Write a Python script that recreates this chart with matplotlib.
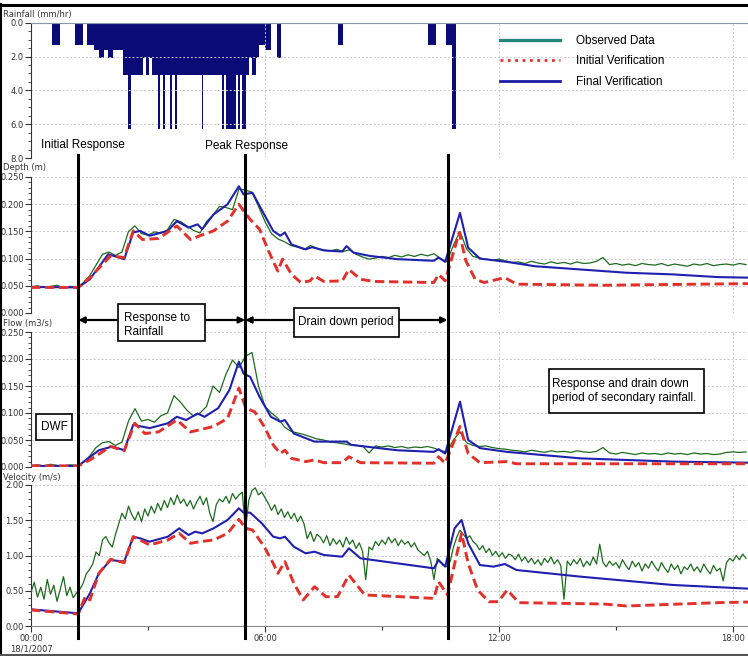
import numpy as np
import matplotlib.pyplot as plt
from matplotlib.lines import Line2D
from matplotlib.patches import Rectangle, FancyArrowPatch
from matplotlib.ticker import MultipleLocator, FormatStrFormatter
import matplotlib.transforms as mtransforms

# ---------------- data (time in hours from 00:00 18/1/2007) ----------------
# rainfall intensity (mm/hr) as steps between edges
rain_edges = [0.538, 0.744, 1.128, 1.333, 1.436, 1.615, 1.744, 1.872, 1.974, 2.103,
              2.359, 2.487, 2.564, 2.872, 2.949, 3.026, 3.103, 3.256, 3.308, 3.385,
              3.436, 3.564, 3.615, 3.692, 3.731, 4.385, 4.423, 4.897, 4.949, 5.0,
              5.256, 5.308, 5.359, 5.41, 5.513, 5.59, 5.667, 5.769, 5.846, 6.0,
              6.154, 6.308, 6.41, 7.872, 8.0, 10.18, 10.385, 10.641, 10.795, 10.897]
rain_rate = [1.3, 0, 1.3, 0, 1.3, 1.6, 2.1, 1.6, 2.1, 1.6,
             3.1, 6.3, 3.1, 2.1, 3.1, 2.1, 3.1, 6.3, 3.1, 6.3,
             3.1, 6.3, 3.1, 6.3, 3.1, 6.3, 3.1, 6.3, 3.1, 6.3,
             3.1, 6.3, 3.1, 6.3, 3.1, 2.1, 3.1, 2.1, 1.3, 1.6,
             0, 2.1, 0, 1.3, 0, 1.3, 0, 1.3, 6.3]

# observed depth (m) and flow (m3/s), 10-minute readings
depth_obs = [0.048, 0.050, 0.047, 0.049, 0.051, 0.046, 0.049, 0.047, 0.055, 0.068, 0.088, 0.108,
             0.112, 0.106, 0.112, 0.150, 0.160, 0.146, 0.143, 0.149, 0.147, 0.153, 0.172, 0.168,
             0.160, 0.152, 0.147, 0.168, 0.180, 0.196, 0.194, 0.190, 0.228, 0.226, 0.222, 0.196,
             0.168, 0.146, 0.136, 0.131, 0.124, 0.121, 0.117, 0.124, 0.119, 0.116, 0.114, 0.117,
             0.113, 0.116, 0.108, 0.103, 0.099, 0.101, 0.104, 0.102, 0.106, 0.103, 0.107, 0.104,
             0.108, 0.105, 0.109, 0.100, 0.094, 0.125, 0.150, 0.118, 0.104, 0.101, 0.099, 0.097,
             0.099, 0.096, 0.093, 0.094, 0.091, 0.095, 0.092, 0.090, 0.094, 0.091, 0.093, 0.090,
             0.094, 0.091, 0.092, 0.095, 0.102, 0.089, 0.091, 0.088, 0.090, 0.087, 0.091, 0.089,
             0.088, 0.091, 0.087, 0.090, 0.088, 0.086, 0.090, 0.088, 0.091, 0.087, 0.089, 0.090,
             0.088, 0.091, 0.089]
flow_obs = [0.003, 0.004, 0.002, 0.005, 0.003, 0.002, 0.004, 0.003, 0.008, 0.020, 0.036, 0.045,
            0.047, 0.040, 0.046, 0.085, 0.108, 0.085, 0.088, 0.083, 0.095, 0.100, 0.132, 0.120,
            0.105, 0.094, 0.100, 0.112, 0.150, 0.138, 0.172, 0.198, 0.184, 0.205, 0.212, 0.150,
            0.112, 0.100, 0.090, 0.074, 0.066, 0.063, 0.060, 0.056, 0.052, 0.050, 0.046, 0.045,
            0.043, 0.041, 0.040, 0.039, 0.026, 0.039, 0.037, 0.039, 0.036, 0.038, 0.035, 0.037,
            0.036, 0.038, 0.035, 0.030, 0.028, 0.050, 0.065, 0.045, 0.040, 0.038, 0.039, 0.036,
            0.034, 0.033, 0.031, 0.030, 0.028, 0.031, 0.029, 0.027, 0.030, 0.028, 0.029, 0.027,
            0.030, 0.028, 0.027, 0.029, 0.036, 0.026, 0.024, 0.027, 0.025, 0.023, 0.026, 0.024,
            0.025, 0.023, 0.026, 0.024, 0.025, 0.023, 0.026, 0.024, 0.025, 0.023, 0.024, 0.027,
            0.028, 0.027, 0.028]
t_obs10 = np.arange(len(depth_obs)) / 6.0

# observed velocity (m/s), 5-minute readings
vel_obs = [0.48, 0.62, 0.41, 0.55, 0.38, 0.66, 0.45, 0.58, 0.35, 0.52, 0.70, 0.43,
           0.55, 0.40, 0.47, 0.52, 0.60, 0.74, 0.80, 0.88, 1.05, 1.00, 1.22, 1.27,
           1.18, 1.12, 1.30, 1.45, 1.60, 1.52, 1.70, 1.58, 1.50, 1.62, 1.48, 1.66,
           1.56, 1.70, 1.60, 1.74, 1.64, 1.78, 1.68, 1.82, 1.72, 1.86, 1.74, 1.80,
           1.70, 1.78, 1.66, 1.76, 1.84, 1.72, 1.82, 1.60, 1.48, 1.72, 1.80, 1.76,
           1.84, 1.74, 1.88, 1.80, 1.86, 1.90, 1.36, 1.78, 1.92, 1.96, 1.86, 1.90,
           1.82, 1.74, 1.64, 1.72, 1.58, 1.66, 1.54, 1.62, 1.52, 1.60, 1.48, 1.56,
           1.45, 1.24, 1.34, 1.20, 1.30, 1.26, 1.18, 1.28, 1.14, 1.24, 1.16, 1.22,
           1.12, 1.26, 1.16, 1.22, 1.10, 1.18, 1.06, 0.66, 1.12, 1.08, 1.20, 1.14,
           1.22, 1.16, 1.26, 1.18, 1.24, 1.14, 1.22, 1.16, 1.20, 1.12, 1.18, 1.08,
           1.04, 1.00, 1.06, 0.92, 0.66, 0.96, 0.90, 0.86, 0.84, 0.92, 1.12, 1.26,
           1.36, 1.30, 1.24, 1.28, 1.20, 1.16, 1.08, 1.14, 1.04, 1.10, 1.00, 1.06,
           0.98, 1.04, 0.96, 1.02, 1.00, 0.94, 1.02, 0.92, 0.98, 0.90, 0.96, 0.88,
           0.94, 0.86, 0.96, 0.90, 0.98, 0.88, 0.94, 0.86, 0.38, 0.92, 0.86, 0.94,
           0.88, 0.96, 0.84, 0.92, 0.86, 0.98, 0.88, 1.16, 0.90, 0.84, 0.92, 0.86,
           0.90, 0.82, 0.94, 0.86, 0.80, 0.92, 0.84, 0.90, 0.78, 0.88, 0.82, 0.92,
           0.84, 0.78, 0.90, 0.82, 0.76, 0.88, 0.80, 0.86, 0.74, 0.84, 0.80, 0.88,
           0.78, 0.84, 0.76, 0.88, 0.80, 0.74, 0.86, 0.78, 0.82, 0.64, 0.90, 0.96,
           0.92, 1.00, 0.94, 1.02, 0.96]
t_obs5 = np.arange(len(vel_obs)) / 12.0

# model results (time, value)
depth_init_t = [0, 1.21, 1.51, 2.04, 2.39, 2.62, 2.86, 3.27, 3.74, 4.09, 4.33, 4.68, 5.04, 5.33,
                5.45, 5.62, 5.86, 6.09, 6.33, 6.45, 6.68, 6.92, 7.15, 7.27, 7.51, 7.98, 8.15,
                8.45, 8.8, 10.33, 10.45, 10.62, 10.98, 11.15, 11.39, 11.62, 12.15, 12.45, 14.68, 18.39]
depth_init = [0.047, 0.047, 0.065, 0.105, 0.102, 0.151, 0.135, 0.137, 0.160, 0.135, 0.142, 0.151,
              0.169, 0.200, 0.188, 0.172, 0.154, 0.114, 0.077, 0.099, 0.071, 0.056, 0.059, 0.068,
              0.058, 0.059, 0.080, 0.062, 0.058, 0.056, 0.071, 0.059, 0.148, 0.096, 0.062, 0.056,
              0.065, 0.053, 0.051, 0.054]
depth_final_t = [0, 1.21, 1.51, 1.98, 2.39, 2.62, 2.8, 3.04, 3.51, 3.74, 4.04, 4.27, 4.39, 4.68,
                 5.04, 5.33, 5.45, 5.68, 5.98, 6.21, 6.39, 6.51, 6.68, 7.04, 7.21, 7.51, 7.98,
                 8.09, 8.27, 8.68, 9.39, 10.33, 10.45, 10.62, 11.0, 11.21, 11.51, 12.2, 12.92,
                 14.09, 15.27, 16.45, 17.62, 18.39]
depth_final = [0.048, 0.047, 0.062, 0.108, 0.099, 0.148, 0.151, 0.142, 0.151, 0.169, 0.157, 0.163,
               0.154, 0.181, 0.200, 0.233, 0.218, 0.221, 0.181, 0.151, 0.142, 0.148, 0.126, 0.117,
               0.121, 0.115, 0.113, 0.123, 0.111, 0.105, 0.099, 0.096, 0.102, 0.094, 0.184, 0.120,
               0.100, 0.094, 0.086, 0.080, 0.074, 0.071, 0.066, 0.065]

flow_init_t = [0, 1.21, 1.51, 2.04, 2.39, 2.66, 2.92, 3.27, 3.74, 4.09, 4.33, 4.68, 5.04, 5.33,
               5.51, 5.74, 5.98, 6.21, 6.39, 6.51, 6.68, 7.04, 7.27, 7.51, 7.98, 8.15, 8.45,
               10.33, 10.45, 10.62, 11.0, 11.21, 11.51, 12.2, 12.45, 18.39]
flow_init = [0.002, 0.002, 0.013, 0.038, 0.030, 0.081, 0.062, 0.065, 0.087, 0.065, 0.069, 0.075,
             0.090, 0.146, 0.109, 0.102, 0.075, 0.041, 0.025, 0.031, 0.016, 0.010, 0.013, 0.008,
             0.008, 0.019, 0.008, 0.007, 0.019, 0.007, 0.075, 0.025, 0.008, 0.010, 0.006, 0.006]
flow_final_t = [0, 1.21, 1.74, 2.09, 2.39, 2.62, 3.04, 3.51, 3.74, 3.98, 4.27, 4.45, 4.8, 5.09,
                5.33, 5.45, 5.62, 5.86, 6.15, 6.39, 6.51, 6.74, 7.27, 8.09, 8.21, 9.39, 10.33,
                10.45, 10.62, 11.0, 11.21, 11.51, 12.2, 14.09, 16.45, 18.39]
flow_final = [0.002, 0.002, 0.031, 0.038, 0.031, 0.078, 0.072, 0.081, 0.093, 0.087, 0.099, 0.093,
              0.109, 0.143, 0.195, 0.173, 0.167, 0.130, 0.093, 0.084, 0.087, 0.062, 0.047, 0.047,
              0.041, 0.031, 0.028, 0.033, 0.025, 0.121, 0.050, 0.035, 0.028, 0.016, 0.010, 0.008]

vel_init_t = [0, 1.21, 1.39, 1.51, 1.74, 2.04, 2.39, 2.62, 2.8, 3.04, 3.51, 3.8, 4.09, 4.33, 4.68,
              5.04, 5.33, 5.51, 5.68, 5.98, 6.21, 6.33, 6.51, 6.74, 6.98, 7.27, 7.56, 7.86, 8.15,
              8.56, 10.33, 10.45, 10.68, 11.04, 11.21, 11.45, 11.74, 11.98, 12.21, 12.51, 14.68,
              15.27, 17.62, 18.39]
vel_init = [0.227, 0.170, 0.416, 0.369, 0.747, 0.946, 0.898, 1.267, 1.220, 1.149, 1.220, 1.314,
            1.173, 1.196, 1.220, 1.314, 1.513, 1.385, 1.362, 1.125, 0.889, 0.747, 0.913, 0.605,
            0.369, 0.558, 0.416, 0.416, 0.723, 0.440, 0.392, 0.629, 0.440, 1.314, 0.889, 0.511,
            0.345, 0.345, 0.511, 0.331, 0.312, 0.284, 0.331, 0.340]
vel_final_t = [0, 1.21, 1.51, 1.74, 2.04, 2.39, 2.62, 2.8, 3.04, 3.51, 3.8, 4.04, 4.21, 4.39, 4.68,
               5.04, 5.33, 5.45, 5.62, 5.92, 6.21, 6.39, 6.51, 6.74, 7.04, 7.27, 7.51, 7.98, 8.15,
               8.45, 9.39, 10.33, 10.45, 10.62, 10.86, 11.04, 11.21, 11.51, 11.86, 12.15, 12.45,
               14.09, 16.45, 18.39]
vel_final = [0.236, 0.180, 0.463, 0.747, 0.936, 0.913, 1.267, 1.243, 1.196, 1.267, 1.385, 1.291,
             1.338, 1.314, 1.385, 1.504, 1.669, 1.608, 1.608, 1.456, 1.267, 1.243, 1.267, 1.125,
             1.031, 1.054, 1.007, 0.983, 1.102, 0.960, 0.889, 0.818, 0.936, 0.842, 1.385, 1.504,
             1.173, 0.865, 0.842, 0.879, 0.794, 0.700, 0.582, 0.530]

event_t = [1.21, 5.49, 10.68]          # initial response, peak response, end of drain down
t_end = 18.385

# ---------------- figure ----------------
W, H = 748, 656
fig = plt.figure(figsize=(W / 100, H / 100), dpi=100)
ann_font = ['Liberation Sans', 'DejaVu Sans']


def fx(x):
    return x / W


def fy(y):
    return 1 - y / H


def panel(ytop, ybot):
    ax = fig.add_axes([fx(31), fy(ybot), fx(748) - fx(31), (ybot - ytop) / H])
    for s in ['top', 'right', 'bottom']:
        ax.spines[s].set_visible(False)
    ax.spines['left'].set_color('#333333')
    ax.set_xlim(0, t_end)
    ax.set_xticks([0, 6, 12, 18])
    ax.tick_params(axis='x', length=0, labelbottom=False)
    ax.tick_params(axis='y', which='major', length=4, width=0.8, pad=1.2,
                   labelsize=6, colors='#333333')
    ax.tick_params(axis='y', which='minor', length=2, width=0.6, colors='#333333')
    ax.grid(True, which='major', color='#c8c8c8', linestyle=(0, (2, 2)), lw=0.7)
    return ax


green, red, blue = '#1d6b1d', '#e2302a', '#1f1fb0'

# rainfall
ax_r = panel(22.7, 158)
ax_r.stairs(rain_rate, rain_edges, baseline=0, fill=True, color='#0b0b78')
ax_r.set_ylim(8, 0)
ax_r.yaxis.set_major_locator(MultipleLocator(2))
ax_r.yaxis.set_minor_locator(MultipleLocator(0.5))
ax_r.yaxis.set_major_formatter(FormatStrFormatter('%.1f'))
ax_r.spines['top'].set_visible(True)
ax_r.spines['top'].set_color('#8a96a8')


def draw_series(ax, obs_t, obs, it, iv, ft, fv):
    ax.plot(obs_t, obs, color=green, lw=0.9, zorder=3)
    ax.plot(ft, fv, color=blue, lw=1.5, zorder=4)
    ax.plot(it, iv, color=red, lw=2.1, dashes=(3.2, 1.6), zorder=5)


ax_d = panel(177, 313)
draw_series(ax_d, t_obs10, depth_obs, depth_init_t, depth_init, depth_final_t, depth_final)
ax_d.set_ylim(0, 0.25)
ax_d.yaxis.set_major_locator(MultipleLocator(0.05))
ax_d.yaxis.set_minor_locator(MultipleLocator(0.01))
ax_d.yaxis.set_major_formatter(FormatStrFormatter('%.3f'))

ax_f = panel(332, 467)
draw_series(ax_f, t_obs10, flow_obs, flow_init_t, flow_init, flow_final_t, flow_final)
ax_f.set_ylim(0, 0.25)
ax_f.yaxis.set_major_locator(MultipleLocator(0.05))
ax_f.yaxis.set_minor_locator(MultipleLocator(0.01))
ax_f.yaxis.set_major_formatter(FormatStrFormatter('%.3f'))

ax_v = panel(485, 626)
draw_series(ax_v, t_obs5, vel_obs, vel_init_t, vel_init, vel_final_t, vel_final)
ax_v.set_ylim(0, 2.0)
ax_v.yaxis.set_major_locator(MultipleLocator(0.5))
ax_v.yaxis.set_minor_locator(MultipleLocator(0.1))
ax_v.yaxis.set_major_formatter(FormatStrFormatter('%.2f'))
ax_v.spines['bottom'].set_visible(True)
ax_v.spines['bottom'].set_color('#888888')
ax_v.set_xticks([0, 6, 12, 18])
ax_v.set_xticklabels(['00:00\n18/1/2007', '06:00', '12:00', '18:00'])
ax_v.set_xticks([3, 9, 15], minor=True)
ax_v.tick_params(axis='x', which='major', length=4, width=0.8, pad=2, labelbottom=True,
                 labelsize=6, colors='#333333')
ax_v.tick_params(axis='x', which='minor', length=3, width=0.8, colors='#333333')

# axis titles
for y, s in [(15, 'Rainfall (mm/hr)'), (167, 'Depth (m)'), (323, 'Flow (m3/s)'),
             (477, 'Velocity (m/s)')]:
    fig.text(fx(3), fy(y), s, fontsize=6, color='#333333', ha='left', va='center')

# legend
handles = [Line2D([], [], color='#23877a', lw=2.4),
           Line2D([], [], color=red, lw=2.0, linestyle=':'),
           Line2D([], [], color='#1c1ca8', lw=2.0)]
ax_r.legend(handles, ['Observed Data', 'Initial Verification', 'Final Verification'],
            loc='upper left', bbox_to_anchor=(fx(500), fy(35)), bbox_transform=fig.transFigure,
            frameon=False, borderpad=0, borderaxespad=0, handlelength=5.1, handletextpad=1.3,
            labelspacing=0.72, prop={'family': ann_font, 'size': 8.5})

# event lines and arrows
trans = mtransforms.blended_transform_factory(ax_v.transData, fig.transFigure)
for t in event_t:
    fig.add_artist(Line2D([t, t], [fy(155), fy(638)], transform=trans, color='black', lw=2.2))
for a, b in [(event_t[0], event_t[1]), (event_t[1], event_t[2])]:
    fig.add_artist(FancyArrowPatch((a, fy(320)), (b, fy(320)), transform=trans,
                                   arrowstyle='<|-|>', mutation_scale=9, lw=1.6,
                                   color='black', shrinkA=0, shrinkB=0))

fig.text(fx(41), fy(145), 'Initial Response', fontsize=8.5, family=ann_font, va='center')
fig.text(fx(205), fy(146), 'Peak Response', fontsize=8.5, family=ann_font, va='center')


def box(x0, y0, x1, y1):
    fig.add_artist(Rectangle((fx(x0), fy(y1)), fx(x1) - fx(x0), (y1 - y0) / H,
                             transform=fig.transFigure, facecolor='white',
                             edgecolor='black', lw=1.2, zorder=6))


box(118, 304, 205, 341)
fig.text(fx(124), fy(325), 'Response to\nRainfall', fontsize=8.5, family=ann_font,
         va='center', linespacing=1.3, zorder=7)
box(294, 308, 399, 337)
fig.text(fx(298), fy(322), 'Drain down period', fontsize=8.5, family=ann_font,
         va='center', zorder=7)
box(36, 414, 72, 440)
fig.text(fx(54), fy(427), 'DWF', fontsize=8.5, family=ann_font, ha='center',
         va='center', zorder=7)
box(549, 369, 704, 413)
fig.text(fx(552), fy(391), 'Response and drain down\nperiod of secondary rainfall.',
         fontsize=8.5, family=ann_font, va='center', linespacing=1.25, zorder=7)

# window frame of the screenshot
fig.add_artist(Rectangle((0, fy(468)), fx(2), 9 / H, transform=fig.transFigure,
                         facecolor='#e8141c', edgecolor='none', zorder=9))
fig.add_artist(Rectangle((0, fy(586)), fx(2), 2 / H, transform=fig.transFigure,
                         facecolor='#22cc22', edgecolor='none', zorder=9))
fig.add_artist(Line2D([fx(1), fx(1)], [fy(4), fy(656)], transform=fig.transFigure,
                      color='black', lw=1.5, zorder=9))
fig.add_artist(Line2D([0, fx(748)], [fy(5), fy(5)], transform=fig.transFigure,
                      color='black', lw=2.2, zorder=9))
fig.add_artist(Line2D([0, 1], [fy(655), fy(655)], transform=fig.transFigure,
                      color='#555555', lw=1.5, zorder=9))

fig.savefig('out.png', dpi=100)
